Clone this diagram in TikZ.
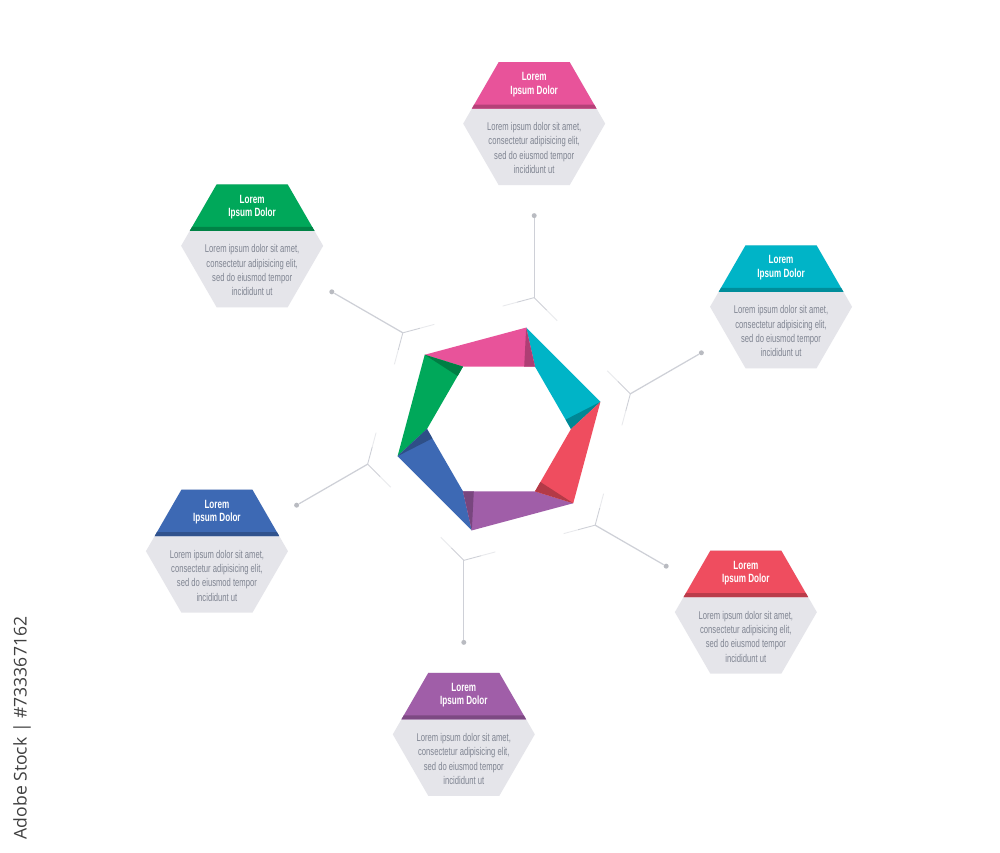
\documentclass[tikz,border=0pt]{standalone}
\usepackage{fontspec}
\usepackage{tikz}
\usetikzlibrary{calc}
\newfontfamily\condfont[FakeStretch=0.68]{Liberation Sans}
\newfontfamily\sidefont{Open Sans}
\definecolor{cpink}{RGB}{232,83,154}
\definecolor{cteal}{RGB}{0,180,199}
\definecolor{cred}{RGB}{239,77,95}
\definecolor{cpurple}{RGB}{160,94,168}
\definecolor{cblue}{RGB}{61,105,180}
\definecolor{cgreen}{RGB}{0,168,90}
\definecolor{cardgray}{RGB}{229,229,234}
\definecolor{textgray}{RGB}{128,133,146}
\definecolor{linegray}{RGB}{206,208,215}
\tikzset{
  cardtitle/.style={text=white, align=center, inner sep=0pt, font=\condfont\bfseries\fontsize{6.8}{7.6}\selectfont},
  cardtext/.style={text=textgray, align=center, inner sep=0pt, font=\condfont\fontsize{6.4}{8.2}\selectfont},
  dot/.style={circle, fill=linegray!90!black, inner sep=0pt, minimum size=1mm},
  spokeline/.style={draw=linegray, line width=0.7pt},
  faintline/.style={draw=linegray, line width=0.5pt},
}
% one coloured piece of the ring
\def\piece#1#2{%
  \fill[#2] (#1:105) -- ({#1+60}:105) -- ({#1+45}:72) -- ({#1-15}:72) -- cycle;
  \fill[#2!75!black] (#1:105) -- ({#1-15}:72) -- ($({#1-15}:72)!0.15!({#1+45}:72)$) -- cycle;}
% joint, spoke and dot
\def\spoke#1#2{%
  \coordinate (joint#2) at (#1:136);
  \draw[faintline] (joint#2) -- ($(joint#2)!0.13!({#1+60}:136)$);
  \draw[faintline, draw opacity=0.45] ($(joint#2)!0.13!({#1+60}:136)$) -- ($(joint#2)!0.24!({#1+60}:136)$);
  \draw[faintline] (joint#2) -- ($(joint#2)!0.13!({#1-60}:136)$);
  \draw[faintline, draw opacity=0.45] ($(joint#2)!0.13!({#1-60}:136)$) -- ($(joint#2)!0.24!({#1-60}:136)$);
  \node[dot] (dot#2) at ($(joint#2)+({#1+15}:82)$) {};
  \draw[spokeline] (joint#2) -- (dot#2);
  \coordinate (card#2) at ($(joint#2)+({#1+15}:174)$);}
% hexagon card with coloured head
\def\infocard#1#2{%
  \begin{scope}[shift={(card#1)}]
    \fill[cardgray] (0:71) -- (60:71) -- (120:71) -- (180:71) -- (240:71) -- (300:71) -- cycle;
    \fill[#2] (120:71) -- (60:71) -- (62.3,15) -- (-62.3,15) -- cycle;
    \fill[#2!78!black] (-60,19) -- (60,19) -- (62.3,15) -- (-62.3,15) -- cycle;
    \node[cardtitle] (title#1) at (0,39) {Lorem\\Ipsum Dolor};
    \node[cardtext] (text#1) at (0,-24.5) {Lorem ipsum dolor sit amet,\\consectetur adipisicing elit,\\sed do eiusmod tempor\\incididunt ut};
  \end{scope}}

\begin{document}
\begin{tikzpicture}[x=0.2mm, y=0.2mm]
  %%%%% START %%%%%
  \fill[white] (-499,-424) rectangle (501,429);
  \useasboundingbox (-499,-424) rectangle (501,429);

  \spoke{15}{1}
  \spoke{75}{2}
  \spoke{135}{3}
  \spoke{195}{4}
  \spoke{255}{5}
  \spoke{315}{6}

  \infocard{1}{cteal}
  \infocard{2}{cpink}
  \infocard{3}{cgreen}
  \infocard{4}{cblue}
  \infocard{5}{cpurple}
  \infocard{6}{cred}

  \piece{15}{cteal}
  \piece{75}{cpink}
  \piece{135}{cgreen}
  \piece{195}{cblue}
  \piece{255}{cpurple}
  \piece{315}{cred}

  \node[rotate=90, text=black!75, font=\sidefont\fontsize{10}{12}\selectfont] (stock) at (-477,-299) {Adobe Stock | \#733367162};
  %%%%% END %%%%%
\end{tikzpicture}
\end{document}
